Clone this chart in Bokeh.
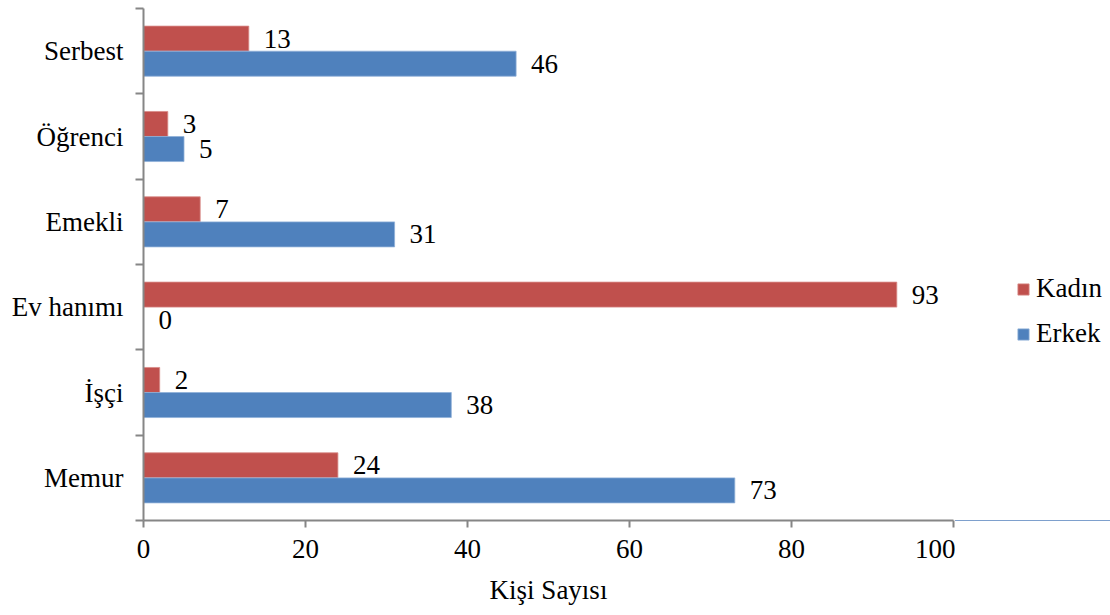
from bokeh.plotting import figure
from bokeh.layouts import row
from bokeh.models import ColumnDataSource, Range1d, FixedTicker, LabelSet, Legend, LegendItem
from bokeh.transform import dodge
from bokeh.embed import file_html
from bokeh.resources import INLINE

categories = ["Memur", "İşçi", "Ev hanımı", "Emekli", "Öğrenci", "Serbest"]
kadin = [24, 2, 93, 7, 3, 13]
erkek = [73, 38, 0, 31, 5, 46]
series_names = ["Kadın", "Erkek"]
x_ticks = [0, 20, 40, 60, 80, 100]
x_title = "Kişi Sayısı"

FONT = "Liberation Serif"
FS = "27px"
RED = "#C0504D"
BLUE = "#4F81BD"
AXIS = "#868686"

pos = list(range(len(categories)))
src = ColumnDataSource(dict(y=pos, kadin=kadin, erkek=erkek,
                            kl=[str(v) for v in kadin], el=[str(v) for v in erkek]))

p = figure(width=955, height=615, output_backend="svg", toolbar_location=None,
           x_range=Range1d(0, 100), y_range=Range1d(-0.5, len(categories) - 0.5),
           min_border_left=143, min_border_right=2, min_border_top=8, min_border_bottom=95)
p.outline_line_color = None
p.grid.visible = False
p.background_fill_color = "white"

off = 0.147
hh = 0.293
r_k = p.hbar(y=dodge('y', off, range=p.y_range), left=0, right='kadin', height=hh,
             fill_color=RED, line_color="#d88a88", line_width=0.8, source=src)
r_e = p.hbar(y=dodge('y', -off, range=p.y_range), left=0, right='erkek', height=hh,
             fill_color=BLUE, line_color="#8fb0d8", line_width=0.8, source=src)

for col, lab, o in (("kadin", "kl", off), ("erkek", "el", -off)):
    ls = LabelSet(x=col, y=dodge('y', o, range=p.y_range), text=lab, source=src,
                  x_offset=15, text_baseline="middle", text_align="left",
                  text_font=FONT, text_font_size=FS, text_color="black")
    p.add_layout(ls)

# y axis
ya = p.yaxis[0]
ya.ticker = FixedTicker(ticks=pos, minor_ticks=[i - 0.5 for i in range(len(categories) + 1)])
ya.major_label_overrides = {i: c for i, c in enumerate(categories)}
ya.major_tick_line_color = None
ya.major_tick_out = 0
ya.major_tick_in = 0
ya.minor_tick_out = 8
ya.minor_tick_in = 0
ya.minor_tick_line_color = AXIS
ya.minor_tick_line_width = 2
ya.axis_line_color = AXIS
ya.axis_line_width = 2
ya.major_label_standoff = 12
ya.major_label_text_font = FONT
ya.major_label_text_font_size = FS
ya.major_label_text_color = "black"

# x axis
xa = p.xaxis[0]
xa.ticker = FixedTicker(ticks=x_ticks)
xa.axis_line_color = AXIS
xa.axis_line_width = 2
xa.major_tick_line_color = AXIS
xa.major_tick_line_width = 2
xa.major_tick_out = 7
xa.major_tick_in = 0
xa.minor_tick_line_color = None
xa.major_label_standoff = 12
xa.major_label_text_font = FONT
xa.major_label_text_font_size = FS
xa.major_label_text_color = "black"
xa.axis_label = x_title
xa.axis_label_text_font = FONT
xa.axis_label_text_font_size = FS
xa.axis_label_text_font_style = "normal"
xa.axis_label_text_color = "black"
xa.axis_label_standoff = 14

# legend panel (separate figure to the right of the plot area; its bars lie outside its view)
lp = figure(width=155, height=615, output_backend="svg", toolbar_location=None,
            x_range=Range1d(0, 1), y_range=Range1d(100, 101),
            x_axis_type=None, y_axis_type=None,
            min_border_left=0, min_border_right=0, min_border_top=8, min_border_bottom=95)
lp.outline_line_color = None
lp.grid.visible = False
lk = lp.hbar(y='y', left=0, right='kadin', height=hh, fill_color=RED, line_color="#d88a88",
             line_width=0.8, source=src)
le = lp.hbar(y='y', left=0, right='erkek', height=hh, fill_color=BLUE, line_color="#8fb0d8",
             line_width=0.8, source=src)

legend = Legend(items=[LegendItem(label=series_names[0], renderers=[lk]),
                       LegendItem(label=series_names[1], renderers=[le])],
                location=(61, 171), padding=0, margin=0, spacing=14,
                glyph_width=14, glyph_height=14, label_standoff=6,
                label_text_font=FONT, label_text_font_size=FS, label_text_color="black",
                border_line_color=None, background_fill_alpha=0)
lp.add_layout(legend)

layout = row(p, lp, spacing=0)
open("out.html", "w").write(file_html(layout, INLINE))
